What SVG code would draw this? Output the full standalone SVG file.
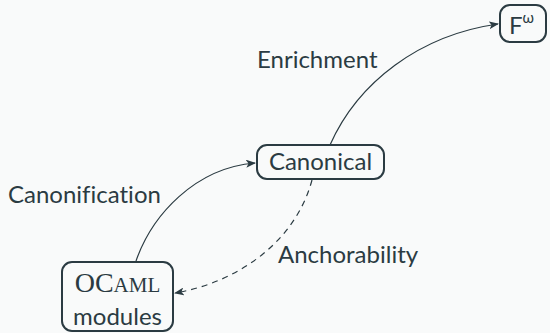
<svg xmlns="http://www.w3.org/2000/svg" width="550" height="333" viewBox="0 0 550 333">
  <style>
    .node rect { fill: none; stroke: #2b3b42; stroke-width: 2; }
    .lbl { font-family: Lato, "DejaVu Sans", sans-serif; font-size: 24px; fill: #2b3b42; font-variant-ligatures: none; }
    .edge { fill: none; stroke: #2b3b42; stroke-width: 1.2; }
    .dashed { stroke-dasharray: 6 5; }
  </style>
  <defs>
    <marker id="arrow" viewBox="0 0 10 8" refX="9" refY="4" markerWidth="10" markerHeight="8" markerUnits="userSpaceOnUse" orient="auto">
      <path d="M0,0 L10,4 L0,8 L2.5,4 Z" fill="#2b3b42"/>
    </marker>
  </defs>
  <rect width="550" height="333" fill="#f9fafa"/>

  <g id="connectors">
    <path id="e-canonification" class="edge" d="M136,261 C152,215 195,168 255,163" marker-end="url(#arrow)"/>
    <path id="e-enrichment" class="edge" d="M330,145 C358,82 420,35 498,24" marker-end="url(#arrow)"/>
    <path id="e-anchorability" class="edge dashed" d="M312,180 C296,240 240,282 175,293" marker-end="url(#arrow)"/>
    <text class="lbl" x="8" y="203">Canonification</text>
    <text class="lbl" x="257" y="68">Enrichment</text>
    <text class="lbl" x="278" y="263">Anchorability</text>
  </g>

  <g id="node-canonical" class="node">
    <rect x="257" y="145" width="127" height="34" rx="10"/>
    <text class="lbl" x="320.5" y="170" text-anchor="middle">Canonical</text>
  </g>

  <g id="node-fomega" class="node">
    <rect x="500" y="5" width="46" height="37" rx="10"/>
    <text class="lbl" x="509" y="34">F<tspan font-size="15" dy="-11">ω</tspan></text>
  </g>

  <g id="node-ocaml" class="node">
    <rect x="62" y="262" width="111" height="69" rx="10"/>
    <text x="117.5" y="292" text-anchor="middle" font-family="'Liberation Serif', serif" font-size="28" fill="#2b3b42">OC<tspan font-size="21">AML</tspan></text>
    <text class="lbl" x="117.5" y="325" text-anchor="middle">modules</text>
  </g>
</svg>
